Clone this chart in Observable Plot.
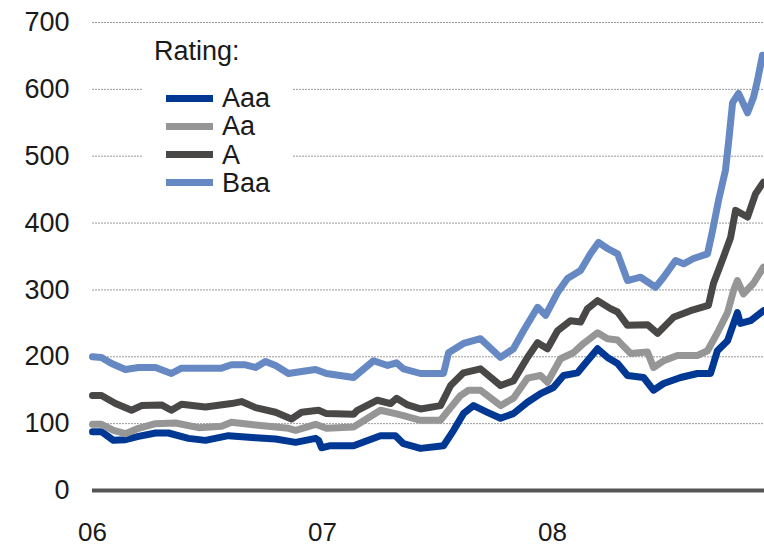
<!DOCTYPE html>
<html>
<head>
<meta charset="utf-8">
<script src="https://cdn.jsdelivr.net/npm/d3@7"></script>
<script src="https://cdn.jsdelivr.net/npm/@observablehq/plot@0.6"></script>
<style>
  html, body { margin: 0; padding: 0; background: #fff; }
  #wrap { position: relative; width: 764px; height: 547px; font-family: "Liberation Sans", Arial, sans-serif; }
  #legend { position: absolute; left: 143px; top: 30px; width: 150px; height: 175px; background: #fff; color: #1a1a1a; font-size: 27px; }
  #legend .title { position: absolute; left: 11px; top: 6px; line-height: 30px; }
  #legend .row { position: absolute; left: 23px; height: 28px; display: flex; align-items: center; }
  #legend .sw { width: 47px; height: 7px; margin-right: 9px; }
  #legend .lab { line-height: 28px; }
</style>
</head>
<body>
<div id="wrap"><div id="chart"></div><div id="legend"></div></div>
<script>
// Spreads (bp) by rating; x in decimal years
const ratings = ["Aaa", "Aa", "A", "Baa"];
const colors = ["#003893", "#969696", "#4a4747", "#6689c4"];
const yTicks = [0, 100, 200, 300, 400, 500, 600, 700];
const xTicks = [2006, 2007, 2008];
const xTickLabels = ["06", "07", "08"];

const aaa = [[2006.000,88],[2006.039,88],[2006.091,75],[2006.143,76],[2006.200,81],[2006.274,86],[2006.330,86],[2006.417,78],[2006.491,75],[2006.591,82],[2006.709,79],[2006.796,77],[2006.883,72],[2006.970,78],[2006.983,75],[2006.996,64],[2007.035,67],[2007.135,67],[2007.252,82],[2007.317,82],[2007.352,70],[2007.426,63],[2007.526,67],[2007.570,90],[2007.613,115],[2007.657,127],[2007.717,117],[2007.774,108],[2007.830,115],[2007.891,132],[2007.948,145],[2008.004,154],[2008.048,172],[2008.109,176],[2008.152,194],[2008.196,212],[2008.239,199],[2008.283,190],[2008.326,172],[2008.396,169],[2008.439,150],[2008.483,160],[2008.557,169],[2008.630,175],[2008.687,175],[2008.717,209],[2008.761,224],[2008.804,266],[2008.817,250],[2008.861,254],[2008.917,269]];

const aa = [[2006.000,99],[2006.039,99],[2006.091,90],[2006.143,85],[2006.200,93],[2006.274,100],[2006.361,101],[2006.461,94],[2006.561,96],[2006.604,102],[2006.709,98],[2006.852,93],[2006.883,90],[2006.970,99],[2007.017,93],[2007.135,95],[2007.252,120],[2007.317,115],[2007.352,112],[2007.426,105],[2007.513,105],[2007.557,124],[2007.600,142],[2007.635,150],[2007.687,150],[2007.774,127],[2007.830,138],[2007.891,168],[2007.948,172],[2007.978,162],[2008.035,197],[2008.091,206],[2008.135,220],[2008.196,236],[2008.239,227],[2008.283,225],[2008.339,205],[2008.413,207],[2008.439,184],[2008.483,194],[2008.543,202],[2008.630,202],[2008.674,209],[2008.717,236],[2008.761,266],[2008.787,299],[2008.804,314],[2008.830,294],[2008.874,310],[2008.917,334]];

const a = [[2006.000,142],[2006.039,142],[2006.100,130],[2006.170,120],[2006.213,127],[2006.300,128],[2006.343,120],[2006.387,129],[2006.491,125],[2006.604,130],[2006.648,133],[2006.709,124],[2006.796,117],[2006.865,107],[2006.909,117],[2006.983,120],[2007.017,115],[2007.135,114],[2007.152,120],[2007.239,135],[2007.296,130],[2007.322,138],[2007.370,128],[2007.426,122],[2007.513,127],[2007.557,157],[2007.613,176],[2007.687,182],[2007.774,157],[2007.830,164],[2007.891,199],[2007.935,221],[2007.978,212],[2008.022,239],[2008.078,254],[2008.122,252],[2008.152,272],[2008.196,284],[2008.252,272],[2008.283,267],[2008.326,247],[2008.413,248],[2008.457,235],[2008.526,259],[2008.600,269],[2008.678,277],[2008.700,310],[2008.743,349],[2008.774,378],[2008.796,419],[2008.848,409],[2008.883,444],[2008.917,461]];

const baa = [[2006.000,200],[2006.039,199],[2006.083,190],[2006.143,181],[2006.200,184],[2006.274,184],[2006.343,175],[2006.387,183],[2006.561,183],[2006.604,188],[2006.665,188],[2006.709,184],[2006.752,193],[2006.796,187],[2006.852,175],[2006.909,178],[2006.970,181],[2007.017,175],[2007.135,169],[2007.222,194],[2007.283,187],[2007.322,191],[2007.352,182],[2007.426,175],[2007.526,175],[2007.548,206],[2007.613,220],[2007.687,227],[2007.774,199],[2007.830,212],[2007.874,239],[2007.935,274],[2007.970,262],[2008.022,296],[2008.065,317],[2008.122,329],[2008.165,354],[2008.200,371],[2008.239,362],[2008.283,354],[2008.326,314],[2008.383,319],[2008.448,304],[2008.483,319],[2008.535,344],[2008.570,339],[2008.613,347],[2008.674,354],[2008.696,389],[2008.722,434],[2008.752,479],[2008.765,519],[2008.783,580],[2008.809,594],[2008.848,565],[2008.874,588],[2008.891,613],[2008.913,651]];

const seriesValues = [aaa, aa, a, baa];
const table = seriesValues.flatMap((s, i) => s.map(([x, y]) => ({x, y, rating: ratings[i]})));

const chart = Plot.plot({
  width: 764,
  height: 547,
  marginLeft: 92,
  marginRight: 0,
  marginTop: 22,
  marginBottom: 57,
  style: {fontFamily: "'Liberation Sans', Arial, sans-serif", fontSize: "27px", color: "#1a1a1a", background: "#fff"},
  x: {domain: [2006, 2006 + 672 / 230], axis: null},
  y: {domain: [0, 700], axis: null},
  color: {domain: ratings, range: colors},
  marks: [
    Plot.ruleY(yTicks.filter(d => d > 0), {stroke: "#9a9a9a", strokeWidth: 1, strokeDasharray: "2,1"}),
    Plot.axisY(yTicks, {tickSize: 0, tickPadding: 23, fontSize: 27, fill: "#1a1a1a", label: null}),
    Plot.axisX(xTicks, {tickSize: 0, tickPadding: 32, fontSize: 26, fill: "#1a1a1a", label: null, tickFormat: d => xTickLabels[xTicks.indexOf(d)]}),
    Plot.ruleY([0], {stroke: "#555555", strokeWidth: 4}),
    Plot.line(table, {x: "x", y: "y", z: "rating", stroke: "rating", strokeWidth: 7, strokeLinejoin: "round", strokeLinecap: "round"})
  ]
});
document.getElementById("chart").appendChild(chart);

const legend = document.getElementById("legend");
const title = document.createElement("div");
title.className = "title";
title.textContent = "Rating:";
legend.appendChild(title);
ratings.forEach((r, i) => {
  const row = document.createElement("div");
  row.className = "row";
  row.style.top = (54 + i * 28.3) + "px";
  const sw = document.createElement("div");
  sw.className = "sw";
  sw.style.background = colors[i];
  const lab = document.createElement("span");
  lab.className = "lab";
  lab.textContent = r;
  row.appendChild(sw);
  row.appendChild(lab);
  legend.appendChild(row);
});
</script>
</body>
</html>
